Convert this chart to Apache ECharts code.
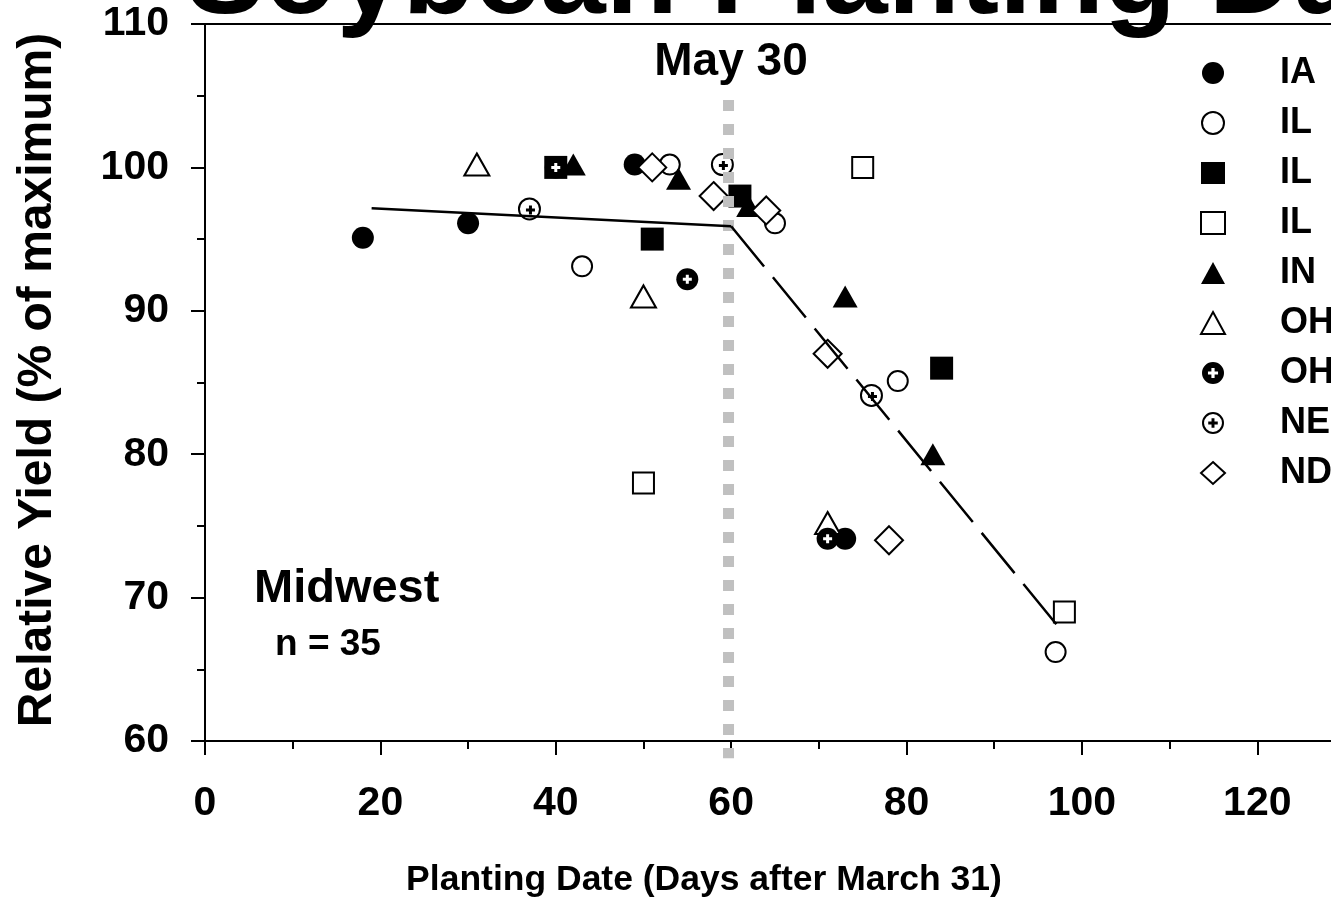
<!DOCTYPE html>
<html>
<head>
<meta charset="utf-8">
<script src="https://cdn.jsdelivr.net/npm/echarts@6/dist/echarts.min.js"></script>
<style>
	html, body { margin: 0; padding: 0; background: #fff; }
	#chart { width: 1331px; height: 920px; }
</style>
</head>
<body>
<div id="chart"></div>
<script>
	// planting date (days after March 31) vs relative yield (% of maximum)
	var iaData = [[18, 95.1], [30, 96.1], [49, 100.2], [73, 74.1]]
	var ilCircleData = [[43, 93.1], [53, 100.2], [65, 96.1], [79, 85.1], [97, 66.2]]
	var ilSquareData = [[40, 100], [51, 95], [61, 98], [84, 86]]
	var ilOpenSquareData = [[50, 78], [75, 100], [98, 69]]
	var inData = [[42, 100.2], [54, 99.2], [62, 97.3], [73, 91], [83, 80]]
	var ohTriangleData = [[31, 100.2], [50, 91], [71, 75.2]]
	var ohPlusData = [[40, 100], [55, 92.2], [71, 74.1]]
	var neData = [[37, 97.1], [59, 100.2], [76, 84.1]]
	var ndData = [[51, 100], [58, 98], [64, 97], [71, 87], [78, 74]]

	// fitted lines and the May 30 marker
	var fitBefore = [[19, 97.15], [60, 95.9]]
	var fitAfter = [[60, 95.9], [97.8, 67.6]]
	var may30Line = [[59.7, 104.7], [59.7, 58.8]]

	// legend labels (names padded with spaces so repeated states stay separate)
	var legendNames = ['IA', 'IL', 'IL ', 'IL  ', 'IN', 'OH', 'OH ', 'NE', 'ND']

	var FONT = '"Liberation Sans", Arial, Helvetica, sans-serif'
	var PLUS = 'path://M3,0H6V3H9V6H6V9H3V6H0V3H3Z'
	var OH_ICON = 'path://M12,0A12,12,0,1,1,12,24A12,12,0,1,1,12,0Z' +
		'M10.25,6.5L10.25,10.25L6.5,10.25L6.5,13.75L10.25,13.75L10.25,17.5L13.75,17.5L13.75,13.75L17.5,13.75L17.5,10.25L13.75,10.25L13.75,6.5Z'
	var NE_ICON = 'path://M12,0A12,12,0,1,1,12,24A12,12,0,1,1,12,0Z' +
		'M12,2.2A9.8,9.8,0,1,0,12,21.8A9.8,9.8,0,1,0,12,2.2Z' +
		'M10.4,6.8L13.6,6.8L13.6,10.4L17.2,10.4L17.2,13.6L13.6,13.6L13.6,17.2L10.4,17.2L10.4,13.6L6.8,13.6L6.8,10.4L10.4,10.4Z'

	var filled = { color: '#000', opacity: 1 }
	var hollow = { color: '#fff', borderColor: '#000', borderWidth: 2, opacity: 1 }

	function scatter(name, data, symbol, size, style) {
		return {
			name: name,
			type: 'scatter',
			data: data,
			symbol: symbol,
			symbolSize: size,
			itemStyle: style,
			emphasis: { disabled: true }
		}
	}

	var chart = echarts.init(document.getElementById('chart'))

	var axisCommon = {
		type: 'value',
		axisLine: { show: true, lineStyle: { color: '#000', width: 2 } },
		axisTick: { show: true, inside: false, length: 14, lineStyle: { color: '#000', width: 2 } },
		minorTick: { show: true, splitNumber: 2, length: 8, lineStyle: { color: '#000', width: 2 } },
		splitLine: { show: false },
		axisLabel: { color: '#000', fontFamily: FONT, fontWeight: 'bold', fontSize: 41 }
	}

	var option = {
		animation: false,
		backgroundColor: '#fff',
		grid: { left: 205, top: 24, right: -14, bottom: 179, containLabel: false, outerBoundsMode: 'none' },
		xAxis: [
			Object.assign({}, axisCommon, {
				min: 0, max: 130, interval: 20,
				axisLabel: Object.assign({}, axisCommon.axisLabel, { margin: 42, showMaxLabel: false })
			}),
			{
				type: 'value', position: 'top', min: 0, max: 130,
				axisLine: { show: true, onZero: false, lineStyle: { color: '#000', width: 2 } },
				axisTick: { show: false }, axisLabel: { show: false }, splitLine: { show: false }
			}
		],
		yAxis: Object.assign({}, axisCommon, {
			min: 60, max: 110, interval: 10,
			axisLabel: Object.assign({}, axisCommon.axisLabel, { margin: 36, padding: [7, 0, 0, 0] })
		}),
		legend: {
			orient: 'vertical',
			left: 1200,
			top: 55,
			padding: 0,
			itemWidth: 24,
			itemHeight: 22,
			itemGap: 14,
			selectedMode: false,
			textStyle: {
				color: '#000', fontFamily: FONT, fontWeight: 'bold', fontSize: 36,
				lineHeight: 36, padding: [0, 0, 0, 50]
			},
			data: [
				'IA', 'IL', 'IL ', 'IL  ', 'IN', 'OH',
				{ name: 'OH ', icon: OH_ICON, itemStyle: { color: '#000', borderWidth: 0 } },
				{ name: 'NE', icon: NE_ICON, itemStyle: { color: '#000', borderWidth: 0 } },
				'ND'
			]
		},
		graphic: [
			{
				type: 'text', x: 186, y: -20, silent: true,
				style: { text: 'Soybean Planting Date', font: 'bold 118px ' + FONT, fill: '#000',
					align: 'left', textAlign: 'left', verticalAlign: 'middle', textVerticalAlign: 'middle' }
			},
			{
				type: 'text', x: 731, y: 62, silent: true,
				style: { text: 'May 30', font: 'bold 46px ' + FONT, fill: '#000',
					align: 'center', textAlign: 'center', verticalAlign: 'middle', textVerticalAlign: 'middle' }
			},
			{
				type: 'text', x: 254, y: 589, silent: true,
				style: { text: 'Midwest', font: 'bold 47px ' + FONT, fill: '#000',
					align: 'left', textAlign: 'left', verticalAlign: 'middle', textVerticalAlign: 'middle' }
			},
			{
				type: 'text', x: 275, y: 645, silent: true,
				style: { text: 'n = 35', font: 'bold 37px ' + FONT, fill: '#000',
					align: 'left', textAlign: 'left', verticalAlign: 'middle', textVerticalAlign: 'middle' }
			},
			{
				type: 'text', x: 704, y: 880, silent: true,
				style: { text: 'Planting Date (Days after March 31)', font: 'bold 35.5px ' + FONT, fill: '#000',
					align: 'center', textAlign: 'center', verticalAlign: 'middle', textVerticalAlign: 'middle' }
			},
			{
				type: 'text', x: 38, y: 380, rotation: Math.PI / 2, silent: true,
				style: { text: 'Relative Yield (% of maximum)', font: 'bold 48px ' + FONT, fill: '#000',
					align: 'center', textAlign: 'center', verticalAlign: 'middle', textVerticalAlign: 'middle' }
			}
		],
		series: [
			{
				name: 'may30', type: 'line', data: may30Line, symbol: 'none', clip: false, silent: true,
				lineStyle: { color: '#c0c0c0', width: 11, type: [11, 13], cap: 'butt' }
			},
			{
				name: 'fit1', type: 'line', data: fitBefore, symbol: 'none', silent: true,
				lineStyle: { color: '#000', width: 2.5 }
			},
			{
				name: 'fit2', type: 'line', data: fitAfter, symbol: 'none', silent: true,
				lineStyle: { color: '#000', width: 2.5, type: [52, 14] }
			},
			scatter('IA', iaData, 'circle', 22, filled),
			scatter('IL', ilCircleData, 'circle', 20, hollow),
			scatter('IL ', ilSquareData, 'rect', 23, filled),
			scatter('IL  ', ilOpenSquareData, 'rect', 21, hollow),
			scatter('IN', inData, 'triangle', [25, 22], filled),
			scatter('OH', ohTriangleData, 'triangle', [25, 22], hollow),
			scatter('OH ', ohPlusData, 'circle', 22, filled),
			scatter('ohPlusMark', ohPlusData, PLUS, 9, { color: '#fff', opacity: 1 }),
			scatter('NE', neData, 'circle', 21, hollow),
			Object.assign(scatter('nePlusMark', neData, PLUS, 9, { color: '#000', opacity: 1 }), { symbolOffset: [1, 1] }),
			scatter('ND', ndData, 'diamond', 28, hollow)
		]
	}

	chart.setOption(option)
</script>
</body>
</html>
